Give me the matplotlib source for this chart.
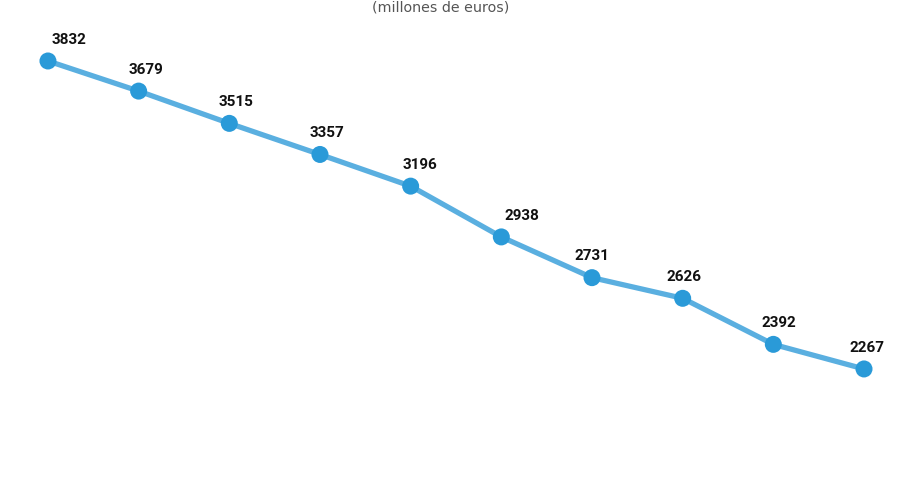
import matplotlib
matplotlib.use("Agg")
import matplotlib.pyplot as plt

# Values (millones de euros)
years = list(range(10))
values = [3832, 3679, 3515, 3357, 3196, 2938, 2731, 2626, 2392, 2267]

# horizontal nudge of each value label, in points
label_dx = [15, 5, 5, 5, 7, 15, 0, 1, 4, 2]

fig = plt.figure(figsize=(9, 5.02), dpi=100)
ax = fig.add_axes([0, 0, 1, 1])

ax.plot(years, values, color="#5aafe0", linewidth=3.8, solid_capstyle="round", zorder=2)
ax.scatter(years, values, s=150, color="#2a9ad8", zorder=3, edgecolors="none")

for x, v, dx in zip(years, values, label_dx):
    ax.annotate(str(v), (x, v), xytext=(dx, 16), textcoords="offset points",
                ha="center", va="center", fontsize=11, fontweight="bold",
                family="Roboto", color="#111111")

ax.set_xlim(-0.529, 9.397)
ax.set_ylim(1596, 4147)
ax.axis("off")

fig.text(0.49, 0.985, "(millones de euros)", ha="center", va="center",
         fontsize=10.3, color="#555555", family="DejaVu Sans")

fig.savefig("out.png", dpi=100)
